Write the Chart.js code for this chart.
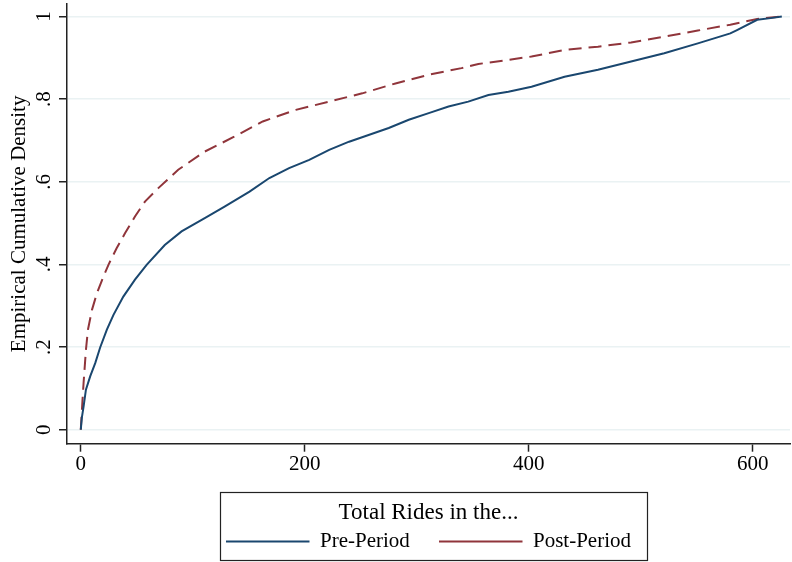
<!DOCTYPE html>
<html>
<head>
<meta charset="utf-8">
<title>Empirical CDF of total rides</title>
<script src="https://cdn.jsdelivr.net/npm/chart.js@4.4.1/dist/chart.umd.min.js"></script>
<style>
  html, body { margin: 0; padding: 0; background: #fff; }
  #wrap { width: 792px; height: 562px; }
</style>
</head>
<body>
<div id="wrap"><canvas id="cdfChart" width="792" height="562"></canvas></div>
<script>
// valores
const seriesNames = ['Pre-Period', 'Post-Period'];

const preRides = [0, 1, 2.5, 4.6, 8.4, 12.9, 17.3, 23.3, 29.2, 38, 48.4, 58.8, 75, 90, 110.7, 128.4,
  150.7, 168.4, 186, 204, 221.8, 239.6, 257, 275, 292.9, 310.7, 328.4, 346, 364, 381.8,
  402.5, 432, 461.8, 491.4, 521, 551, 580, 586, 604, 616, 626];
const preDensity = [0, 0.03, 0.056, 0.097, 0.129, 0.161, 0.199, 0.242, 0.278, 0.322, 0.363, 0.399, 0.447, 0.48, 0.512, 0.54,
  0.576, 0.609, 0.633, 0.653, 0.677, 0.697, 0.713, 0.73, 0.75, 0.766, 0.782, 0.794, 0.81, 0.818,
  0.83, 0.854, 0.871, 0.891, 0.911, 0.935, 0.959, 0.967, 0.992, 0.996, 1.0];

const postRides = [0, 1.5, 2.5, 4.6, 6.4, 10, 14.4, 20.3, 24.7, 32, 39.6, 48.4, 57.3, 69, 87, 110.7,
  137, 162.5, 192, 221.8, 251.4, 281, 310.7, 340, 355, 381.8, 402.5, 432, 461.8, 491.4,
  521, 551, 580, 604, 625];
const postDensity = [0, 0.07, 0.113, 0.193, 0.242, 0.29, 0.33, 0.371, 0.399, 0.439, 0.476, 0.516, 0.552, 0.584, 0.629, 0.673,
  0.709, 0.746, 0.774, 0.794, 0.814, 0.838, 0.859, 0.875, 0.885, 0.895, 0.903, 0.919, 0.927, 0.937,
  0.951, 0.966, 0.98, 0.994, 1.0];

const xTicks = [0, 200, 400, 600];
const yTicks = [0, 0.2, 0.4, 0.6, 0.8, 1];
const yTickLabels = ['0', '.2', '.4', '.6', '.8', '1'];

function toPoints(xs, ys) {
    return xs.map((x, i) => ({ x: x, y: ys[i] }));
}

Chart.defaults.font.family = '"Liberation Serif", "Times New Roman", serif';
Chart.defaults.color = '#000';

// marco alrededor de la leyenda, como en Stata
const legendFrame = {
    id: 'legendFrame',
    afterDraw(chart) {
        const lg = chart.legend;
        if (!lg || !lg.legendHitBoxes || !lg.legendHitBoxes.length) return;
        const hb = lg.legendHitBoxes;
        const last = hb[hb.length - 1];
        const left = hb[0].left - 6;
        const right = last.left + last.width + 16;
        const top = lg.top + 4;
        const bottom = hb[0].top + hb[0].height / 2 + 18;
        const ctx = chart.ctx;
        ctx.save();
        ctx.strokeStyle = '#222';
        ctx.lineWidth = 1.2;
        ctx.setLineDash([]);
        ctx.strokeRect(Math.round(left) + 0.5, Math.round(top) + 0.5, Math.round(right - left), Math.round(bottom - top));
        ctx.restore();
    }
};

const ctx = document.getElementById('cdfChart').getContext('2d');
const cdfChart = new Chart(ctx, {
    type: 'line',
    data: {
        datasets: [{
            label: seriesNames[0],
            data: toPoints(preRides, preDensity),
            borderColor: '#1a476f',
            backgroundColor: '#1a476f',
            borderWidth: 2,
            pointRadius: 0,
            tension: 0,
            fill: false
        }, {
            label: seriesNames[1],
            data: toPoints(postRides, postDensity),
            borderColor: '#90353b',
            backgroundColor: '#90353b',
            borderWidth: 2,
            borderDash: [13, 7],
            pointRadius: 0,
            tension: 0,
            fill: false
        }]
    },
    options: {
        responsive: false,
        animation: false,
        layout: { padding: { top: 4, right: 2, bottom: 0, left: 0 } },
        scales: {
            x: {
                type: 'linear',
                min: -12.3,
                max: 633.3,
                afterBuildTicks: (scale) => { scale.ticks = xTicks.map(v => ({ value: v })); },
                afterFit: (scale) => { scale.height = 44; },
                ticks: {
                    font: { size: 21 },
                    padding: 0,
                    maxRotation: 0,
                    callback: (v) => String(v)
                },
                grid: {
                    drawOnChartArea: false,
                    drawTicks: true,
                    tickLength: 8,
                    tickColor: '#222',
                    tickWidth: 1.5
                },
                border: { color: '#222', width: 1.5 }
            },
            y: {
                min: -0.0339,
                max: 1.0302,
                afterBuildTicks: (scale) => { scale.ticks = yTicks.map(v => ({ value: v })); },
                afterFit: (scale) => {
                    scale.width = 67;
                    scale.paddingTop = 0;
                    scale.paddingBottom = 0;
                },
                ticks: {
                    font: { size: 21 },
                    padding: 7,
                    minRotation: 90,
                    maxRotation: 90,
                    crossAlign: 'center',
                    callback: (v) => {
                        const i = yTicks.indexOf(v);
                        return i >= 0 ? yTickLabels[i] : '';
                    }
                },
                grid: {
                    color: '#eaf2f3',
                    lineWidth: 1.5,
                    drawTicks: true,
                    tickLength: 8,
                    tickColor: '#222',
                    tickWidth: 1.5
                },
                border: { color: '#222', width: 1.5 },
                title: {
                    display: true,
                    text: 'Empirical Cumulative Density',
                    font: { size: 21 },
                    padding: { top: 7, bottom: 0 }
                }
            }
        },
        plugins: {
            legend: {
                position: 'bottom',
                fullSize: false,
                align: 'center',
                title: {
                    display: true,
                    text: 'Total Rides in the...',
                    font: { size: 23 },
                    padding: { top: 14, bottom: -27.5 }
                },
                labels: {
                    usePointStyle: true,
                    pointStyle: 'line',
                    pointStyleWidth: 83.5,
                    padding: 29.2,
                    font: { size: 21 },
                    color: '#000'
                }
            },
            tooltip: { enabled: false }
        }
    },
    plugins: [legendFrame]
});
</script>
</body>
</html>
